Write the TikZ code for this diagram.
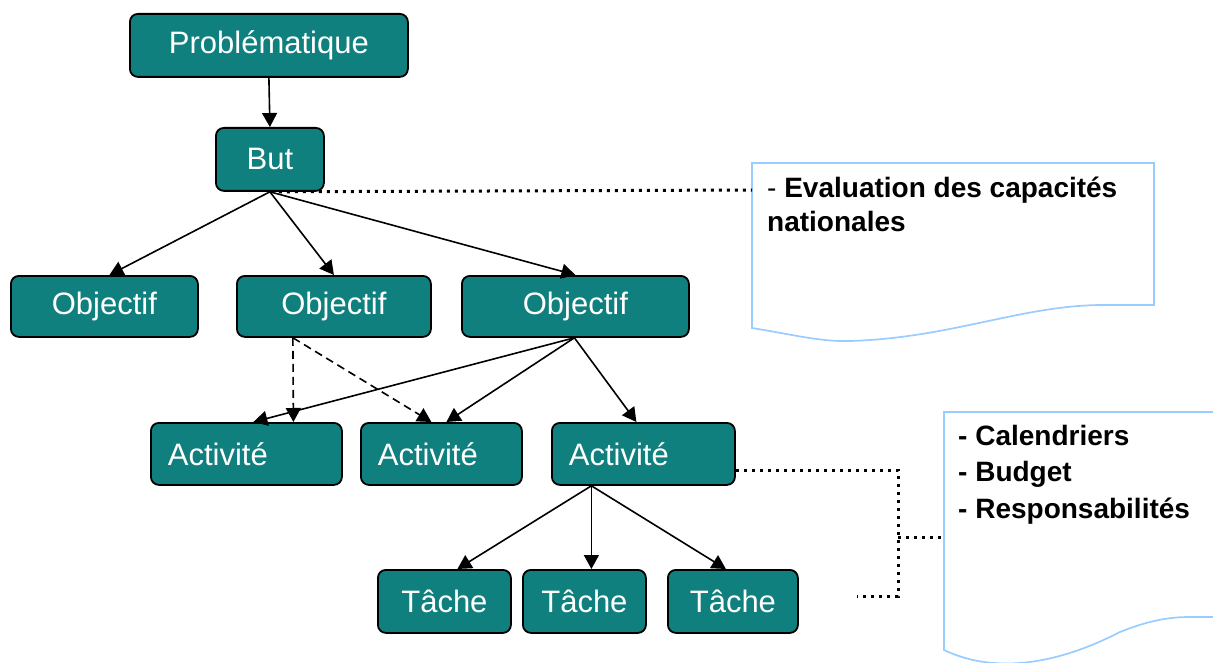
\documentclass[tikz,border=0pt]{standalone}
\usepackage{fontspec}
\setmainfont{Liberation Sans}
\usetikzlibrary{arrows.meta,calc}
\definecolor{teal1}{RGB}{16,128,126}
\definecolor{noteblue}{RGB}{153,204,255}
\begin{document}
\begin{tikzpicture}[x=1pt,y=-1pt,
  box/.style={draw=black, line width=1.8pt, fill=teal1, rounded corners=8pt,
    text=white, font=\fontsize{31}{31}\selectfont, inner sep=0pt, anchor=north west},
  arr/.style={line width=1.6pt, -{Triangle[length=14pt,width=15pt]}},
  darr/.style={arr, dash pattern=on 8pt off 5pt},
  dots/.style={line width=3pt, dash pattern=on 3pt off 5pt},
  note/.style={draw=noteblue, line width=1.7pt},
  ntext/.style={anchor=base west, inner sep=0pt, font=\fontsize{28}{28}\selectfont}]
\useasboundingbox (0,0) rectangle (1213,663);
% nodes
\node[box, minimum width=278pt, minimum height=63pt] (prob) at (129,13) {Problématique};
\node[box, minimum width=108pt, minimum height=63pt] (but) at (215,127) {But};
\node[box, minimum width=187pt, minimum height=61pt] (obj1) at (10,275) {Objectif};
\node[box, minimum width=194pt, minimum height=61pt] (obj2) at (236,275) {Objectif};
\node[box, minimum width=227pt, minimum height=61pt] (obj3) at (461,275) {Objectif};
\node[box, minimum width=191pt, minimum height=62pt, text width=157pt, align=left] (act1) at (150,422) {Activité};
\node[box, minimum width=161pt, minimum height=62pt, text width=127pt, align=left] (act2) at (360,422) {Activité};
\node[box, minimum width=183pt, minimum height=62pt, text width=149pt, align=left] (act3) at (551,422) {Activité};
\node[box, minimum width=133pt, minimum height=63pt] (t1) at (377,569) {Tâche};
\node[box, minimum width=123pt, minimum height=63pt] (t2) at (522,569) {Tâche};
\node[box, minimum width=130pt, minimum height=63pt] (t3) at (667,569) {Tâche};
% arrows
\draw[arr] (prob.south) -- (but.north);
\draw[arr] (but.south) -- ([xshift=5pt]obj1.north);
\draw[arr] (but.south) -- (obj2.north);
\draw[arr] (but.south) -- (obj3.north);
\draw[darr] ([xshift=-41pt]obj2.south) -- ([xshift=47pt]act1.north);
\draw[darr] ([xshift=-41pt]obj2.south) -- ([xshift=-10pt]act2.north);
\draw[arr] ([xshift=-1pt]obj3.south) -- ([xshift=7pt]act1.north);
\draw[arr] ([xshift=-1pt]obj3.south) -- ([xshift=5pt]act2.north);
\draw[arr] ([xshift=-1pt]obj3.south) -- ([xshift=-7pt]act3.north);
\draw[arr] ([xshift=-52pt]act3.south) -- ([xshift=13pt]t1.north);
\draw[arr] ([xshift=-52pt]act3.south) -- ([xshift=7pt]t2.north);
\draw[arr] ([xshift=-52pt]act3.south) -- ([xshift=-7pt]t3.north);
% note 1
\coordinate (n1w) at (752,190);
\draw[note] (752,163) -- (1154,163) -- (1154,305) -- (1100,305)
  .. controls (1020,306) and (950,338) .. (850,341)
  .. controls (820,342) and (790,334) .. (752,328) -- cycle;
\node[ntext] (n1a) at (767,198) {- \textbf{Evaluation des capacités}};
\node[ntext] (n1b) at (767,232) {\textbf{nationales}};
% note 2
\coordinate (n2w) at (944,537);
\draw[note] (1225,412) -- (944,412) -- (944,650)
  .. controls (990,672) and (1050,668) .. (1120,632)
  .. controls (1150,620) and (1170,617) .. (1190,617) -- (1225,617);
\node[ntext] (n2a) at (958,445) {\textbf{- Calendriers}};
\node[ntext] (n2b) at (958,481) {\textbf{- Budget}};
\node[ntext] (n2c) at (958,518) {\textbf{- Responsabilités}};
% dotted connectors
\draw[dots] ([xshift=9pt]but.south) -- (n1w);
\coordinate (j1) at (898,470);
\coordinate (j2) at (898,596);
\coordinate (jm) at (898,537);
\coordinate (tend) at (857,596);
\draw[dots] (act3.east |- j1) -- (j1) -- (j2) -- (tend);
\draw[dots] (jm) -- (n2w);
\end{tikzpicture}
\end{document}
